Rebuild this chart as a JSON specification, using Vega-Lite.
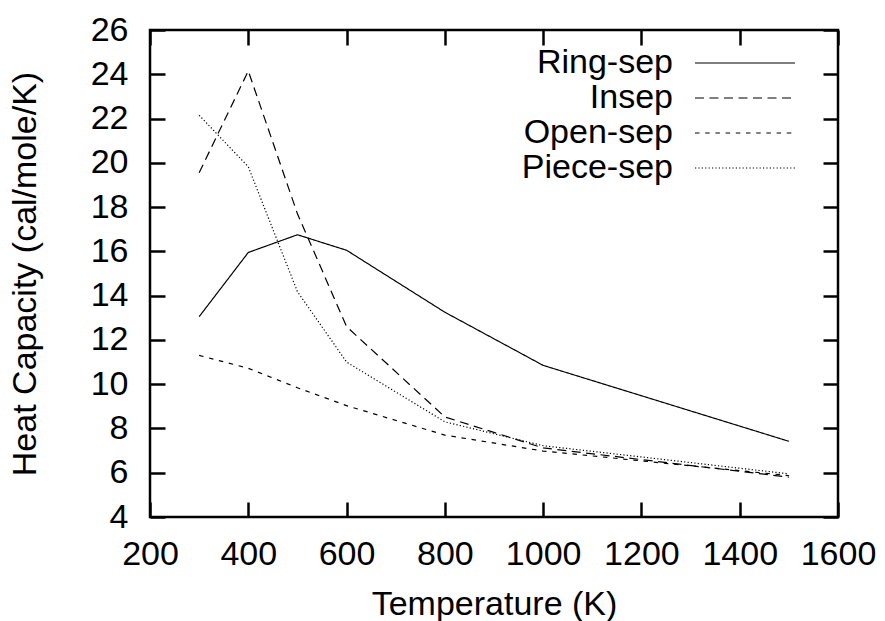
{
  "$schema": "https://vega.github.io/schema/vega-lite/v6.json",
  "width": 688,
  "height": 487,
  "autosize": {"type": "none"},
  "padding": {"left": 150, "top": 30, "right": 47, "bottom": 104},
  "background": "white",
  "config": {
    "font": "Liberation Sans",
    "view": {"stroke": "black", "strokeWidth": 2.5},
    "axis": {
      "grid": false,
      "domain": false,
      "offset": -15,
      "tickColor": "black",
      "tickWidth": 2.5,
      "tickSize": 15,
      "labelFont": "Liberation Sans",
      "labelFontSize": 34,
      "labelColor": "black",
      "titleFont": "Liberation Sans",
      "titleFontSize": 34,
      "titleFontWeight": "normal",
      "titleColor": "black"
    }
  },
  "data": {
    "values": [
      {"T": 300, "Cp": 13.05, "series": "Ring-sep"},
      {"T": 400, "Cp": 15.95, "series": "Ring-sep"},
      {"T": 500, "Cp": 16.75, "series": "Ring-sep"},
      {"T": 600, "Cp": 16.05, "series": "Ring-sep"},
      {"T": 800, "Cp": 13.25, "series": "Ring-sep"},
      {"T": 1000, "Cp": 10.85, "series": "Ring-sep"},
      {"T": 1500, "Cp": 7.42, "series": "Ring-sep"},
      {"T": 300, "Cp": 19.55, "series": "Insep"},
      {"T": 400, "Cp": 24.15, "series": "Insep"},
      {"T": 500, "Cp": 17.7, "series": "Insep"},
      {"T": 600, "Cp": 12.6, "series": "Insep"},
      {"T": 800, "Cp": 8.52, "series": "Insep"},
      {"T": 1000, "Cp": 7.12, "series": "Insep"},
      {"T": 1500, "Cp": 5.8, "series": "Insep"},
      {"T": 300, "Cp": 11.3, "series": "Open-sep"},
      {"T": 400, "Cp": 10.72, "series": "Open-sep"},
      {"T": 500, "Cp": 9.84, "series": "Open-sep"},
      {"T": 600, "Cp": 9.03, "series": "Open-sep"},
      {"T": 800, "Cp": 7.7, "series": "Open-sep"},
      {"T": 1000, "Cp": 6.98, "series": "Open-sep"},
      {"T": 1500, "Cp": 5.87, "series": "Open-sep"},
      {"T": 300, "Cp": 22.15, "series": "Piece-sep"},
      {"T": 400, "Cp": 19.82, "series": "Piece-sep"},
      {"T": 500, "Cp": 14.18, "series": "Piece-sep"},
      {"T": 600, "Cp": 11.0, "series": "Piece-sep"},
      {"T": 800, "Cp": 8.3, "series": "Piece-sep"},
      {"T": 1000, "Cp": 7.22, "series": "Piece-sep"},
      {"T": 1500, "Cp": 5.95, "series": "Piece-sep"}
    ]
  },
  "layer": [
    {
      "mark": {"type": "line", "color": "black", "strokeWidth": 1.2},
      "encoding": {
        "x": {
          "field": "T", "type": "quantitative",
          "scale": {"domain": [200, 1600], "nice": false},
          "axis": {"orient": "bottom", "values": [200, 400, 600, 800, 1000, 1200, 1400, 1600], "format": "d", "title": "Temperature (K)", "labelPadding": 20, "titlePadding": 16, "labelFlush": false}
        },
        "y": {
          "field": "Cp", "type": "quantitative",
          "scale": {"domain": [4, 26], "nice": false, "zero": false},
          "axis": {"orient": "left", "values": [4, 6, 8, 10, 12, 14, 16, 18, 20, 22, 24, 26], "format": "d", "title": "Heat Capacity (cal/mole/K)", "labelPadding": 22, "titlePadding": 48, "labelFlush": false}
        },
        "strokeDash": {
          "field": "series", "type": "nominal",
          "scale": {"domain": ["Ring-sep", "Insep", "Open-sep", "Piece-sep"], "range": [[1, 0], [9, 5.5], [4.5, 5.7], [1.2, 2.2]]},
          "legend": {
            "title": null,
            "orient": "none",
            "legendX": 578,
            "legendY": 16,
            "symbolType": "M-10,0H10",
            "symbolSize": 100,
            "symbolStrokeColor": "black",
            "symbolOpacity": 1,
            "symbolStrokeWidth": 1.2,
            "labelAlign": "right",
            "labelOffset": -89,
            "labelFontSize": 34,
            "labelFont": "Liberation Sans",
            "labelColor": "black",
            "labelLimit": 400,
            "rowPadding": 1
          }
        },
        "detail": {"field": "series"}
      }
    },
    {
      "mark": {"type": "line", "strokeOpacity": 0, "strokeWidth": 0},
      "encoding": {
        "x": {
          "field": "T", "type": "quantitative",
          "axis": {"orient": "top", "values": [200, 400, 600, 800, 1000, 1200, 1400, 1600], "labels": false, "title": null}
        },
        "y": {
          "field": "Cp", "type": "quantitative",
          "axis": {"orient": "right", "values": [4, 6, 8, 10, 12, 14, 16, 18, 20, 22, 24, 26], "labels": false, "title": null}
        },
        "detail": {"field": "series"}
      }
    }
  ]
}
